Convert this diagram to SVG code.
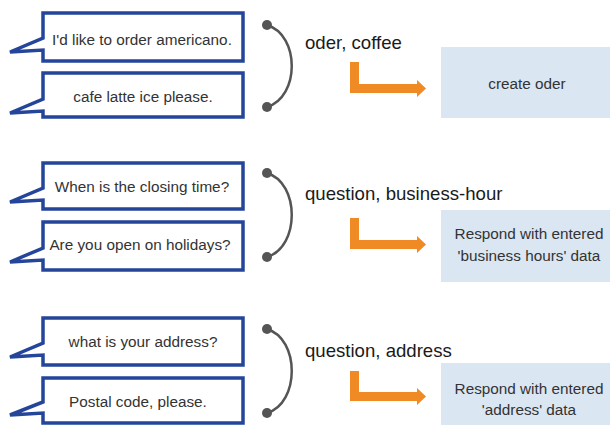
<svg xmlns="http://www.w3.org/2000/svg" width="610" height="425" viewBox="0 0 610 425">
<style>
.bub{fill:#fff;stroke:#24459A;stroke-width:3.5;stroke-linejoin:miter}
.bt{font-family:"Liberation Sans",Arial,sans-serif;font-size:15.3px;fill:#333;text-anchor:middle}
.lbl{font-family:"Liberation Sans",Arial,sans-serif;font-size:18.6px;fill:#1a1a1a}
.box{fill:#DBE6F3}
.arr{fill:#F08A24}
.crv{fill:none;stroke:#555;stroke-width:2.5}
.dot{fill:#555}
</style>
<rect width="610" height="425" fill="#fff"/>
<g id="bubble1"><path class="bub" d="M43,13 H243 V61 H43 V50 L10,52 L43,38 Z"/><text class="bt" x="142" y="45">I'd like to order americano.</text></g>
<g id="bubble2"><path class="bub" d="M43,73 H243 V117 H43 V111 L10,113 L43,99 Z"/><text class="bt" x="143" y="102">cafe latte ice please.</text></g>
<g id="bubble3"><path class="bub" d="M43,163 H243 V209 H43 V200 L10,202 L43,188 Z"/><text class="bt" x="142" y="192">When is the closing time?</text></g>
<g id="bubble4"><path class="bub" d="M43,222 H243 V270 H43 V260 L10,262 L43,248 Z"/><text class="bt" x="140" y="250">Are you open on holidays?</text></g>
<g id="bubble5"><path class="bub" d="M43,318 H243 V365 H43 V355 L10,357 L43,343 Z"/><text class="bt" x="143" y="347">what is your address?</text></g>
<g id="bubble6"><path class="bub" d="M43,378 H243 V423 H43 V413 L10,415 L43,402 Z"/><text class="bt" x="138" y="407">Postal code, please.</text></g>
<g id="label1"><text class="lbl" x="305" y="49">oder, coffee</text></g>
<g id="label2"><text class="lbl" x="305" y="200">question, business-hour</text></g>
<g id="label3"><text class="lbl" x="305" y="357">question, address</text></g>
<g id="result1"><rect class="box" x="441" y="47" width="170" height="71"/><text class="bt" x="527" y="89">create oder</text></g>
<g id="result2"><rect class="box" x="441" y="210" width="170" height="72"/><text class="bt" x="529" y="239">Respond with entered</text><text class="bt" x="529" y="261">'business hours' data</text></g>
<g id="result3"><rect class="box" x="441" y="363" width="170" height="62"/><text class="bt" x="529" y="394">Respond with entered</text><text class="bt" x="529" y="415">'address' data</text></g>
<g id="connectors">
<path class="crv" d="M267,25 C300,35 300,97 267,107"/><circle class="dot" cx="267" cy="25" r="5"/><circle class="dot" cx="267" cy="107" r="5"/>
<path class="crv" d="M267,173 C300,183 300,247 267,257"/><circle class="dot" cx="267" cy="173" r="5"/><circle class="dot" cx="267" cy="257" r="5"/>
<path class="crv" d="M267,329 C300,339 300,403 267,413"/><circle class="dot" cx="267" cy="329" r="5"/><circle class="dot" cx="267" cy="413" r="5"/>
<path class="arr" d="M350,62 H359 V84 H417 V80 L426,88.5 L417,97 V93 H350 Z"/>
<path class="arr" d="M350,218 H359 V240 H417 V236 L426,244.5 L417,253 V249 H350 Z"/>
<path class="arr" d="M350,371 H359 V392 H417 V388 L426,396.5 L417,405 V401 H350 Z"/>
</g>
</svg>
